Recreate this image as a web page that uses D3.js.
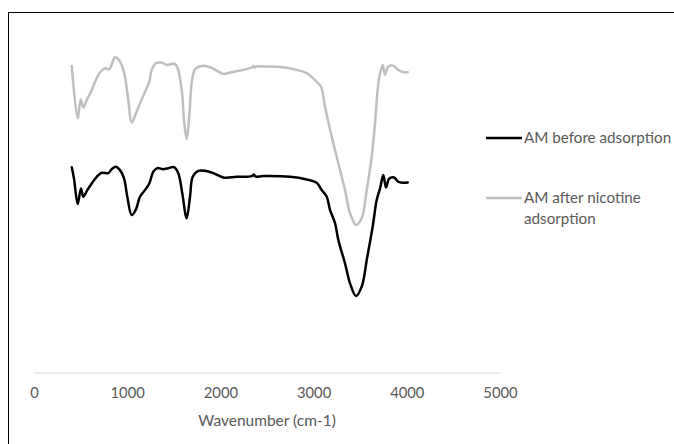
<!DOCTYPE html>
<html>
<head>
<meta charset="utf-8">
<script src="https://cdn.jsdelivr.net/npm/d3@7"></script>
<style>
  html, body { margin: 0; padding: 0; background: #fff; }
  svg { display: block; }
  text { font-family: Lato, "Open Sans", sans-serif; }
</style>
</head>
<body>
<svg id="chart" width="674" height="444"></svg>
<script>
// Series names
const seriesNames = ["AM before adsorption", "AM after nicotine adsorption"];
// X tick labels
const xTicks = [0, 1000, 2000, 3000, 4000, 5000];
const xTitle = "Wavenumber (cm-1)";

// AM after nicotine adsorption (grey): wavenumber / transmittance (arbitrary units)
const afterWn = [405, 469, 501, 529, 565, 619, 655, 708, 762, 808, 869, 905, 941, 976, 1012, 1048, 1094, 1137, 1191, 1237, 1263, 1309, 1370, 1424, 1478, 1513, 1542, 1585, 1613, 1638, 1666, 1692, 1728, 1799, 1888, 1960, 2031, 2103, 2246, 2340, 2355, 2365, 2380, 2460, 2675, 2819, 2926, 3033, 3080, 3122, 3194, 3265, 3337, 3391, 3455, 3516, 3570, 3623, 3659, 3684, 3705, 3742, 3766, 3802, 3855, 3909, 3963, 4010];
const afterT  = [92.2, 76.4, 82.1, 79.7, 81.9, 84.9, 87.4, 90.2, 91.5, 91.2, 94.8, 94.2, 92.5, 88.9, 81.9, 75.1, 77.9, 80.9, 84.4, 87.4, 91.0, 93.0, 93.2, 92.5, 92.8, 92.8, 91.5, 84.9, 74.9, 70.1, 76.9, 87.0, 91.2, 92.2, 91.8, 90.8, 89.8, 90.2, 91.0, 91.8, 92.2, 91.6, 92.0, 92.0, 91.8, 91.0, 90.0, 87.4, 85.9, 79.9, 70.9, 62.9, 54.8, 47.8, 44.3, 46.3, 54.8, 64.8, 74.9, 83.9, 88.9, 92.5, 89.5, 92.0, 92.2, 91.0, 90.3, 90.3];

// AM before adsorption (black)
const beforeWn = [405, 429, 469, 504, 529, 572, 619, 673, 726, 797, 834, 877, 923, 966, 1001, 1048, 1094, 1137, 1191, 1237, 1280, 1323, 1387, 1441, 1502, 1548, 1591, 1638, 1674, 1703, 1763, 1835, 1924, 2031, 2175, 2336, 2360, 2375, 2460, 2747, 2926, 3033, 3087, 3141, 3176, 3230, 3265, 3337, 3391, 3455, 3516, 3576, 3634, 3677, 3713, 3748, 3777, 3812, 3863, 3909, 3956, 4010];
const beforeT  = [61.7, 58.3, 50.6, 55.3, 52.8, 54.8, 56.8, 58.8, 60.0, 59.9, 61.1, 61.8, 60.8, 58.3, 52.8, 47.3, 49.0, 52.8, 54.8, 56.8, 60.3, 61.4, 61.1, 61.4, 61.7, 59.9, 53.8, 46.3, 52.8, 58.8, 60.6, 60.6, 59.9, 58.6, 58.8, 59.0, 59.5, 58.9, 59.0, 58.8, 58.0, 57.0, 54.8, 52.8, 48.8, 44.8, 39.8, 32.7, 26.7, 22.9, 25.7, 34.7, 43.8, 51.8, 55.3, 59.3, 55.6, 58.3, 58.6, 57.3, 57.0, 57.1];

const colors = ["#000000", "#BFBFBF"];

const svg = d3.select("#chart");

// chart border (only top and left edges fall inside the picture)
svg.append("rect")
  .attr("x", 8.5).attr("y", 12.5)
  .attr("width", 800).attr("height", 600)
  .attr("fill", "none").attr("stroke", "#000").attr("stroke-width", 1);

const x = d3.scaleLinear().domain([0, 5000]).range([34, 500]);
const y = d3.scaleLinear().domain([0, 100]).range([372, 40]);

// x axis
const xAxis = d3.axisBottom(x).tickValues(xTicks).tickSize(0).tickPadding(0).tickFormat(d3.format("d"));
const gx = svg.append("g").attr("transform", "translate(0,372.5)").call(xAxis);
gx.select(".domain").attr("stroke", "#D9D9D9").attr("stroke-width", 1);
gx.selectAll("text")
  .attr("y", 21).attr("dy", "0.32em")
  .attr("fill", "#595959")
  .style("font-size", "14.8px");

svg.append("text")
  .attr("x", (x(0) + x(5000)) / 2).attr("y", 421).attr("dy", "0.32em")
  .attr("text-anchor", "middle")
  .attr("fill", "#595959")
  .style("font-size", "15.5px")
  .text(xTitle);

const line = d3.line()
  .x(d => x(d[0])).y(d => y(d[1]))
  .curve(d3.curveCatmullRom.alpha(0.5));

const afterData = afterWn.map((w, i) => [w, afterT[i]]);
const beforeData = beforeWn.map((w, i) => [w, beforeT[i]]);

svg.append("path").datum(afterData)
  .attr("d", line).attr("fill", "none")
  .attr("stroke", colors[1]).attr("stroke-width", 2.5)
  .attr("stroke-linejoin", "round").attr("stroke-linecap", "round");

svg.append("path").datum(beforeData)
  .attr("d", line).attr("fill", "none")
  .attr("stroke", colors[0]).attr("stroke-width", 2.5)
  .attr("stroke-linejoin", "round").attr("stroke-linecap", "round");

// legend
const legend = svg.append("g");
const legendItems = [
  { name: seriesNames[0], color: colors[0], y: 138, lines: ["AM before adsorption"] },
  { name: seriesNames[1], color: colors[1], y: 198, lines: ["AM after nicotine", "adsorption"] }
];
legendItems.forEach(it => {
  legend.append("line")
    .attr("x1", 486).attr("x2", 522)
    .attr("y1", it.y).attr("y2", it.y)
    .attr("stroke", it.color).attr("stroke-width", 2.5);
  it.lines.forEach((t, j) => {
    legend.append("text")
      .attr("x", 524).attr("y", it.y + j * 21).attr("dy", "0.35em")
      .attr("fill", "#595959")
      .style("font-size", "15.2px")
      .text(t);
  });
});
</script>
</body>
</html>
